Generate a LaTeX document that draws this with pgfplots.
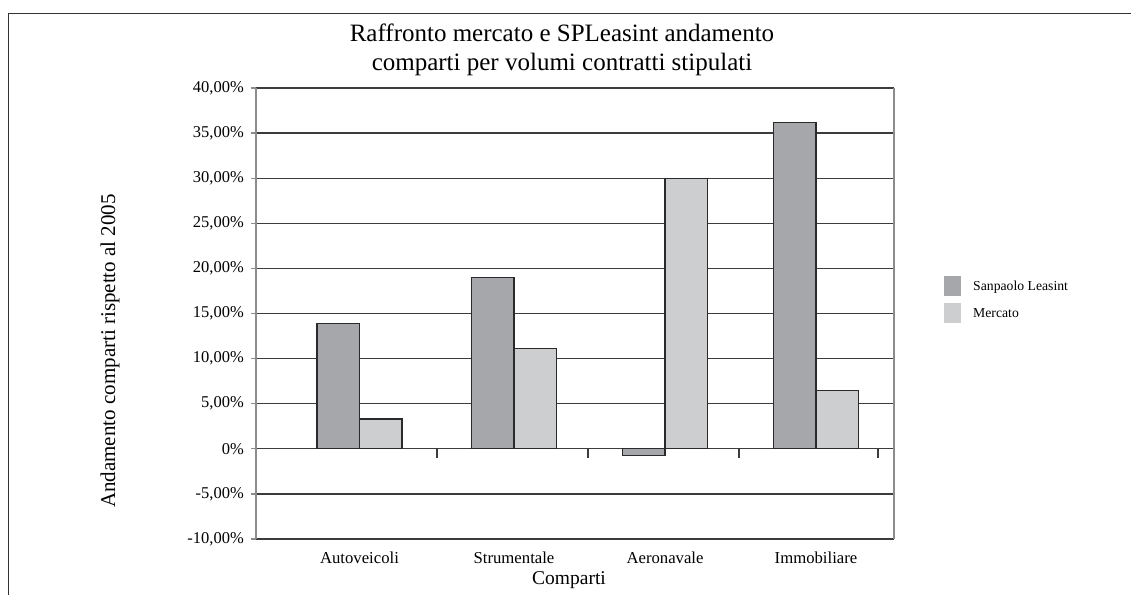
\documentclass[border=0pt]{standalone}
\usepackage{pgfplots}
\pgfplotsset{compat=1.18}
\usepackage{fontspec}
\setmainfont{Liberation Serif}
\definecolor{darkbar}{HTML}{A6A7AA}
\definecolor{lightbar}{HTML}{CDCED0}
\definecolor{edgec}{HTML}{2A2A2A}
\definecolor{gridc}{HTML}{3C3C3C}
\definecolor{axisgray}{HTML}{8C8C8C}
\definecolor{framec}{HTML}{333333}
\begin{document}
\begin{tikzpicture}
\useasboundingbox (0pt,0pt) rectangle (1131pt,594pt);
\draw[framec, line width=1.5pt] (8.3pt,580.7pt) rectangle (1170pt,-30pt);
\begin{axis}[
  at={(256pt,55pt)}, anchor=south west,
  scale only axis, width=638pt, height=451pt,
  xmin=256, xmax=894, ymin=-10, ymax=40,
  separate axis lines,
  x axis line style={gridc, line width=1.2pt},
  y axis line style={axisgray, line width=1.6pt},
  ytick={-10,-5,...,40},
  yticklabels={{-10,00\%},{-5,00\%},{0\%},{5,00\%},{10,00\%},{15,00\%},{20,00\%},{25,00\%},{30,00\%},{35,00\%},{40,00\%}},
  ytick pos=left, tick align=outside, major tick length=5pt,
  ytick style={axisgray, line width=1.2pt},
  ymajorgrids, grid style={gridc, line width=1.2pt},
  xtick={359.5,514,665,816},
  xticklabels={Autoveicoli,Strumentale,Aeronavale,Immobiliare},
  xtick style={draw=none},
  xticklabel style={font=\fontsize{16.7}{20}\selectfont, anchor=north, inner sep=0pt, yshift=-7.5pt},
  yticklabel style={font=\fontsize{16.5}{20}\selectfont, anchor=east, inner sep=0pt, xshift=-7pt},
  title={Raffronto mercato e SPLeasint andamento\\comparti per volumi contratti stipulati},
  title style={at={(rel axis cs:0.4796,1.0716)}, anchor=center, align=center, inner sep=0pt, font=\fontsize{25}{29}\selectfont},
  xlabel={Comparti},
  xlabel style={at={(rel axis cs:0.4906,-0.0909)}, anchor=center, inner sep=0pt, font=\fontsize{19.5}{22}\selectfont},
  ylabel={Andamento comparti rispetto al 2005},
  ylabel style={at={(rel axis cs:-0.2288,0.4169)}, anchor=center, inner sep=0pt, font=\fontsize{21}{24}\selectfont},
  legend style={at={(rel axis cs:1.0784,0.5831)}, anchor=north west, draw=none, fill=none,
    inner sep=0pt, outer sep=0pt, row sep=7pt, font=\fontsize{13.7}{16}\selectfont,
    nodes={inner sep=0pt, outer sep=0pt},
    /tikz/every even column/.append style={column sep=0pt}},
  legend cell align=left,
]
\addplot[ybar, fill=darkbar, draw=edgec, line width=1.2pt, bar width=42.5pt, bar shift=-21.25pt,
  legend image code/.code={\fill[darkbar] (0pt,-9.5pt) rectangle (16pt,9.5pt); \path (28pt,0pt);}]
  coordinates {(359.5,13.9) (514,19.0) (665,-0.7) (816,36.2)};
\addlegendentry{Sanpaolo Leasint}
\addplot[ybar, fill=lightbar, draw=edgec, line width=1.2pt, bar width=42.5pt, bar shift=21.25pt,
  legend image code/.code={\fill[lightbar] (0pt,-9.5pt) rectangle (16pt,9.5pt); \path (28pt,0pt);}]
  coordinates {(359.5,3.3) (514,11.1) (665,30.0) (816,6.5)};
\addlegendentry{Mercato}
\addplot[ycomb, gridc, line width=1.2pt, forget plot]
  coordinates {(437,-1.0) (588,-1.0) (739,-1.0) (878,-1.0)};
\end{axis}
\end{tikzpicture}
\end{document}
